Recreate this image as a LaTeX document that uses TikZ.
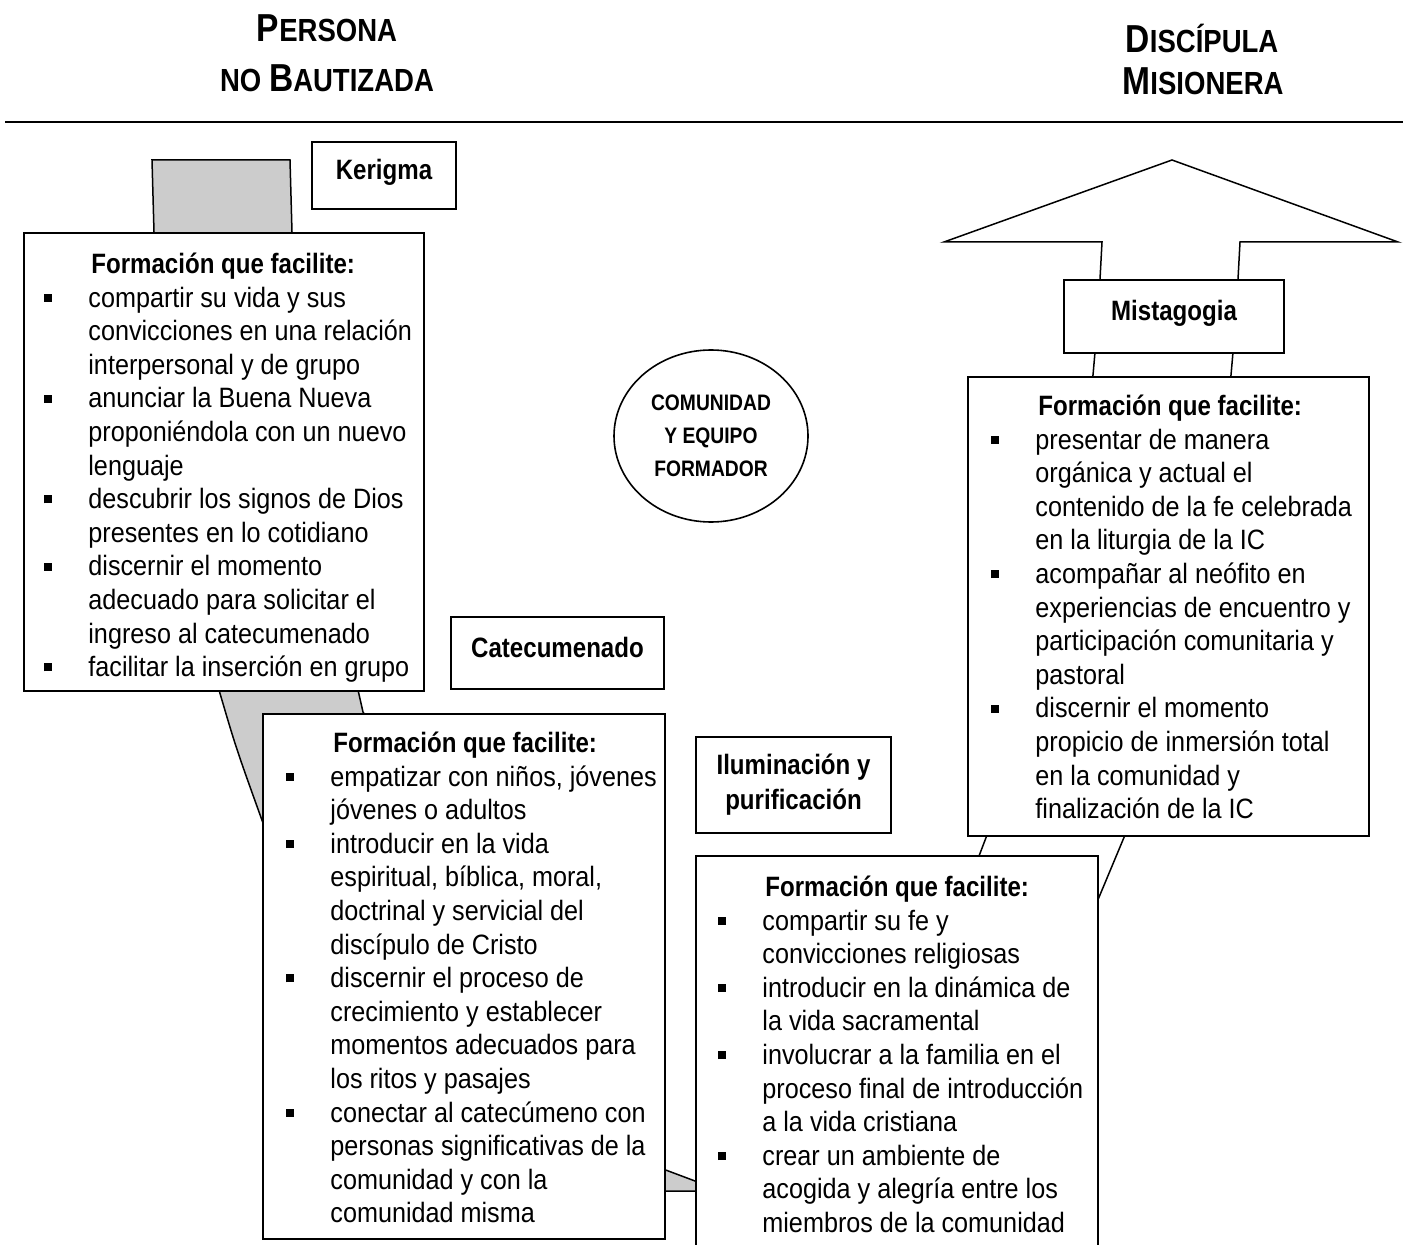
\documentclass[tikz,border=0pt]{standalone}
\usepackage{fontspec}
\setmainfont{Liberation Sans}
\newfontfamily\bodyfont[FakeStretch=0.9]{Liberation Sans}
\newfontfamily\headfont[FakeStretch=0.86]{Liberation Sans}
\usetikzlibrary{shapes.geometric}

\definecolor{bandgray}{gray}{0.8}
\newcommand{\bul}{\leavevmode\llap{\rule[2.6pt]{4pt}{4pt}\hspace{18pt}}}
\newcommand{\formtitle}{\rule{0pt}{12pt}\hspace*{1.5pt}{\headfont\bfseries Formación que facilite:}}
\newcommand{\smcap}[2]{{\fontsize{19.5}{23}\selectfont #1}{\fontsize{16}{19}\selectfont #2}}

\tikzset{
    panel/.style={draw, line width=1pt, fill=white, inner sep=0pt, anchor=north west},
    tag/.style={panel, align=center, text depth=6pt, font=\headfont\bfseries\fontsize{14}{17.5}\selectfont},
    hdr/.style={inner sep=0pt, anchor=base, font=\headfont\bfseries},
    listtext/.style={anchor=north west, inner sep=0pt, align=left, font=\bodyfont\fontsize{14}{16.8}\selectfont},
    band/.style={draw, line width=0.75pt},
}

\begin{document}
\begin{tikzpicture}[x=0.5pt, y=-0.5pt]
        \useasboundingbox (0,0) rectangle (1406,1245);
        \clip (0,0) rectangle (1406,1245);

        % Headings
        \node[hdr] (perA) at (327,42) {\smcap{P}{ERSONA}};
        \node[hdr] (perB) at (327,92) {{\fontsize{16}{19}\selectfont NO }\smcap{B}{AUTIZADA}};
        \node[hdr] (disA) at (1202,53) {\smcap{D}{ISCÍPULA}};
        \node[hdr] (disB) at (1203,95) {\smcap{M}{ISIONERA}};
        \draw[line width=1pt] (5,122) -- (1403,122);

        % Curved arrow: grey back part
        \filldraw[band, fill=bandgray] (152,160) -- (290,160) -- (292,232) -- (358,690) -- (363,712)
            -- (663,1169) -- (695,1181) -- (722,1191) -- (663,1191) -- (263,823)
            .. controls (236,748) .. (219,690) -- (154,232) -- cycle;
        % Curved arrow: front part with head
        \filldraw[band, fill=white] (722,1191) -- (979,856) -- (987,835) -- (1093,375) -- (1095,352)
            -- (1100,279) -- (1102,242) -- (944,242) -- (1172,160) -- (1398,242) -- (1240,242)
            -- (1238,279) -- (1233,352) -- (1231,375) -- (1125,835) -- (1097,902) -- cycle;

        % Stage names
        \node[tag, minimum width=72pt, minimum height=33.5pt] (kerigma) at (311,141) {Kerigma};
        \node[tag, minimum width=106.5pt, minimum height=36pt] (catecumenado) at (450,616) {Catecumenado};
        \node[tag, minimum width=97.5pt, minimum height=48pt, text depth=3pt] (iluminacion) at (695,736) {Iluminación y\\purificación};
        \node[tag, minimum width=110pt, minimum height=36.5pt] (mistagogia) at (1063,279) {Mistagogia};

        % Panels
        \node[panel, minimum width=200pt, minimum height=229pt] (stage1) at (23,232) {};
        \node[panel, minimum width=201pt, minimum height=262.5pt] (stage2) at (262,713) {};
        \node[panel, minimum width=201pt, minimum height=210pt] (stage3) at (695,855) {};
        \node[panel, minimum width=200.5pt, minimum height=229.5pt] (stage4) at (967,376) {};

        \node[listtext] (list1) at (88,249) {\formtitle\\
            \bul compartir su vida y sus\\
            convicciones en una relación\\
            interpersonal y de grupo\\
            \bul anunciar la Buena Nueva\\
            proponiéndola con un nuevo\\
            lenguaje\\
            \bul descubrir los signos de Dios\\
            presentes en lo cotidiano\\
            \bul discernir el momento\\
            adecuado para solicitar el\\
            ingreso al catecumenado\\
            \bul facilitar la inserción en grupo};

        \node[listtext] (list2) at (330,728) {\formtitle\\
            \bul empatizar con niños, jóvenes\\
            jóvenes o adultos\\
            \bul introducir en la vida\\
            espiritual, bíblica, moral,\\
            doctrinal y servicial del\\
            discípulo de Cristo\\
            \bul discernir el proceso de\\
            crecimiento y establecer\\
            momentos adecuados para\\
            los ritos y pasajes\\
            \bul conectar al catecúmeno con\\
            personas significativas de la\\
            comunidad y con la\\
            comunidad misma};

        \node[listtext] (list3) at (762,872) {\formtitle\\
            \bul compartir su fe y\\
            convicciones religiosas\\
            \bul introducir en la dinámica de\\
            la vida sacramental\\
            \bul involucrar a la familia en el\\
            proceso final de introducción\\
            a la vida cristiana\\
            \bul crear un ambiente de\\
            acogida y alegría entre los\\
            miembros de la comunidad};

        \node[listtext] (list4) at (1035,391) {\formtitle\\
            \bul presentar de manera\\
            orgánica y actual el\\
            contenido de la fe celebrada\\
            en la liturgia de la IC\\
            \bul acompañar al neófito en\\
            experiencias de encuentro y\\
            participación comunitaria y\\
            pastoral\\
            \bul discernir el momento\\
            propicio de inmersión total\\
            en la comunidad y\\
            finalización de la IC};

        % Community in the middle
        \node[draw, ellipse, line width=0.8pt, minimum width=97pt, minimum height=86pt, inner sep=0pt, align=center,
            font=\headfont\bfseries\fontsize{11.2}{16.5}\selectfont] (comunidad) at (711,436) {COMUNIDAD\\Y EQUIPO\\FORMADOR};
\end{tikzpicture}
\end{document}
